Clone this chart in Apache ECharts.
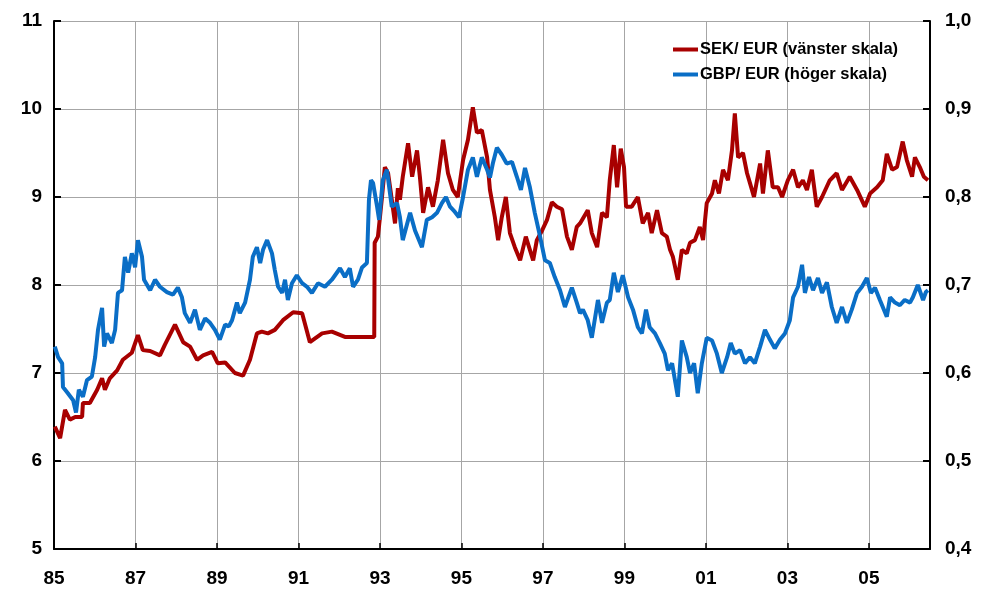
<!DOCTYPE html>
<html>
<head>
<meta charset="utf-8">
<script src="https://cdn.jsdelivr.net/npm/echarts@6/dist/echarts.min.js"></script>
<style>
html,body{margin:0;padding:0;background:#fff;}
#chart{width:987px;height:596px;}
</style>
</head>
<body>
<div id="chart"></div>
<script>
const seriesNames = ['SEK/ EUR (vänster skala)', 'GBP/ EUR (höger skala)'];

const sekYears = [1985.02,1985.15,1985.27,1985.39,1985.52,1985.69,1985.71,1985.88,1986.06,1986.18,1986.25,1986.37,1986.55,1986.69,1986.91,1987.06,1987.18,1987.36,1987.60,1987.72,1987.97,1988.17,1988.34,1988.51,1988.66,1988.88,1989.02,1989.20,1989.44,1989.64,1989.81,1989.98,1990.10,1990.25,1990.42,1990.62,1990.87,1991.09,1991.28,1991.58,1991.82,1992.14,1992.46,1992.86,1992.87,1992.95,1993.00,1993.05,1993.12,1993.20,1993.29,1993.37,1993.44,1993.49,1993.56,1993.69,1993.79,1993.91,1993.98,1994.06,1994.18,1994.30,1994.42,1994.55,1994.67,1994.79,1994.91,1995.04,1995.16,1995.28,1995.38,1995.50,1995.63,1995.70,1995.82,1995.90,1995.99,1996.09,1996.19,1996.31,1996.44,1996.58,1996.68,1996.76,1996.85,1996.98,1997.10,1997.22,1997.34,1997.47,1997.59,1997.71,1997.83,1997.91,1998.10,1998.20,1998.33,1998.45,1998.57,1998.64,1998.74,1998.82,1998.91,1998.99,1999.04,1999.18,1999.33,1999.45,1999.58,1999.67,1999.80,1999.92,2000.04,2000.12,2000.19,2000.31,2000.41,2000.53,2000.61,2000.73,2000.85,2000.93,2001.02,2001.15,2001.22,2001.32,2001.42,2001.54,2001.64,2001.71,2001.79,2001.91,2002.01,2002.08,2002.18,2002.33,2002.40,2002.52,2002.64,2002.77,2002.87,2003.01,2003.14,2003.26,2003.38,2003.48,2003.60,2003.72,2003.85,2004.04,2004.21,2004.34,2004.53,2004.71,2004.90,2005.03,2005.20,2005.34,2005.44,2005.57,2005.69,2005.83,2005.93,2006.06,2006.13,2006.25,2006.35,2006.45];
const sekValues = [6.39,6.26,6.58,6.47,6.50,6.50,6.66,6.66,6.81,6.94,6.81,6.94,7.03,7.15,7.23,7.43,7.26,7.25,7.20,7.32,7.55,7.35,7.30,7.15,7.20,7.24,7.11,7.12,7.00,6.97,7.15,7.45,7.47,7.45,7.49,7.60,7.69,7.68,7.35,7.45,7.47,7.41,7.41,7.41,8.48,8.55,8.77,9.00,9.34,9.27,8.97,8.70,9.10,8.97,9.23,9.61,9.23,9.53,9.23,8.82,9.11,8.89,9.19,9.65,9.27,9.08,9.00,9.42,9.65,10.02,9.73,9.76,9.45,9.08,8.77,8.51,8.77,9.00,8.59,8.43,8.28,8.55,8.40,8.28,8.51,8.62,8.74,8.94,8.89,8.86,8.55,8.40,8.66,8.70,8.85,8.59,8.43,8.82,8.77,9.19,9.59,9.11,9.55,9.34,8.89,8.89,9.00,8.70,8.82,8.59,8.85,8.59,8.55,8.40,8.32,8.06,8.40,8.36,8.48,8.51,8.66,8.51,8.93,9.04,9.19,9.04,9.31,9.19,9.53,9.95,9.45,9.50,9.27,9.16,9.00,9.38,9.04,9.53,9.11,9.11,9.00,9.19,9.31,9.11,9.19,9.08,9.31,8.89,9.00,9.19,9.27,9.08,9.23,9.08,8.89,9.04,9.11,9.19,9.49,9.31,9.34,9.63,9.42,9.23,9.45,9.34,9.23,9.19];

const gbpYears = [1985.02,1985.10,1985.20,1985.22,1985.34,1985.47,1985.54,1985.61,1985.71,1985.81,1985.93,1986.01,1986.08,1986.18,1986.23,1986.30,1986.42,1986.50,1986.57,1986.67,1986.74,1986.82,1986.91,1986.99,1987.06,1987.16,1987.21,1987.36,1987.48,1987.60,1987.77,1987.92,1988.04,1988.14,1988.21,1988.34,1988.46,1988.58,1988.71,1988.83,1988.95,1989.07,1989.20,1989.29,1989.37,1989.49,1989.56,1989.69,1989.81,1989.88,1989.98,1990.06,1990.13,1990.23,1990.35,1990.42,1990.50,1990.60,1990.67,1990.74,1990.84,1990.96,1991.09,1991.21,1991.33,1991.48,1991.65,1991.82,1992.02,1992.14,1992.26,1992.34,1992.46,1992.56,1992.68,1992.73,1992.78,1992.83,1992.93,1992.98,1993.07,1993.17,1993.29,1993.42,1993.49,1993.56,1993.74,1993.86,1994.03,1994.15,1994.28,1994.40,1994.52,1994.62,1994.72,1994.84,1994.94,1995.04,1995.16,1995.28,1995.38,1995.50,1995.63,1995.70,1995.77,1995.87,1995.99,1996.11,1996.24,1996.36,1996.46,1996.56,1996.68,1996.80,1996.93,1997.05,1997.17,1997.29,1997.42,1997.54,1997.71,1997.83,1997.91,1997.98,1998.10,1998.20,1998.35,1998.45,1998.57,1998.64,1998.74,1998.84,1998.96,1999.09,1999.21,1999.33,1999.43,1999.53,1999.62,1999.75,1999.87,1999.99,2000.07,2000.17,2000.31,2000.41,2000.53,2000.61,2000.71,2000.80,2000.90,2001.02,2001.15,2001.27,2001.39,2001.52,2001.61,2001.71,2001.84,2001.96,2002.08,2002.20,2002.33,2002.45,2002.57,2002.69,2002.82,2002.94,2003.06,2003.14,2003.26,2003.36,2003.43,2003.53,2003.63,2003.75,2003.85,2003.97,2004.09,2004.21,2004.34,2004.46,2004.58,2004.71,2004.83,2004.95,2005.05,2005.15,2005.27,2005.44,2005.52,2005.64,2005.76,2005.88,2006.01,2006.08,2006.20,2006.33,2006.40,2006.45];
const gbpValues = [0.630,0.618,0.611,0.584,0.577,0.569,0.555,0.581,0.573,0.592,0.596,0.618,0.649,0.674,0.630,0.645,0.634,0.649,0.691,0.694,0.732,0.714,0.736,0.720,0.751,0.732,0.706,0.694,0.706,0.698,0.692,0.689,0.697,0.686,0.668,0.657,0.672,0.649,0.662,0.657,0.649,0.638,0.655,0.653,0.660,0.680,0.668,0.680,0.706,0.732,0.743,0.725,0.740,0.751,0.736,0.717,0.698,0.691,0.706,0.683,0.702,0.711,0.702,0.698,0.691,0.702,0.698,0.706,0.719,0.709,0.719,0.698,0.706,0.720,0.725,0.797,0.819,0.816,0.789,0.774,0.819,0.831,0.789,0.793,0.777,0.751,0.782,0.762,0.743,0.774,0.777,0.782,0.793,0.800,0.789,0.783,0.777,0.800,0.831,0.845,0.823,0.845,0.831,0.822,0.838,0.856,0.848,0.838,0.840,0.823,0.808,0.833,0.811,0.782,0.755,0.728,0.725,0.709,0.694,0.675,0.697,0.680,0.668,0.672,0.660,0.640,0.683,0.657,0.680,0.683,0.714,0.692,0.711,0.686,0.672,0.652,0.645,0.672,0.652,0.645,0.634,0.622,0.603,0.611,0.573,0.637,0.618,0.600,0.611,0.577,0.611,0.640,0.637,0.622,0.600,0.618,0.634,0.622,0.626,0.611,0.618,0.611,0.630,0.649,0.638,0.628,0.638,0.645,0.660,0.686,0.698,0.723,0.691,0.709,0.694,0.708,0.691,0.703,0.675,0.657,0.675,0.657,0.672,0.691,0.698,0.708,0.691,0.697,0.683,0.664,0.686,0.680,0.677,0.683,0.680,0.686,0.700,0.683,0.692,0.694];

const startYear = 1985;
const endYear = 2006.5;

const chart = echarts.init(document.getElementById('chart'), null, {renderer: 'canvas'});
const labelFont = {fontFamily: 'Liberation Sans, Arial, sans-serif', fontWeight: 'bold', fontSize: 19, color: '#000'};
const gridLine = {show: true, lineStyle: {color: '#a6a6a6', width: 1}};
const axisLine = {show: true, onZero: false, lineStyle: {color: '#000', width: 2}};

chart.setOption({
  animation: false,
  backgroundColor: '#fff',
  grid: {left: 54, right: 57, top: 21, bottom: 47, containLabel: false},
  legend: {
    orient: 'vertical', left: 668, top: 36, itemGap: 8,
    itemWidth: 25, itemHeight: 4, icon: 'rect',
    textStyle: {fontFamily: 'Liberation Sans, Arial, sans-serif', fontWeight: 'bold', fontSize: 16.5, color: '#000', padding: [0,0,0,-3]},
    data: seriesNames
  },
  xAxis: {
    type: 'value', min: 0, max: endYear - startYear, interval: 2,
    axisLine: axisLine,
    axisTick: {show: true, inside: true, length: 6, lineStyle: {color: '#000', width: 1.5}},
    splitLine: gridLine,
    axisLabel: Object.assign({margin: 20, showMaxLabel: false,
      formatter: v => String((85 + v) % 100).padStart(2, '0')}, labelFont)
  },
  yAxis: [
    {
      type: 'value', min: 5, max: 11, interval: 1, position: 'left',
      axisLine: axisLine,
      axisTick: {show: true, inside: true, length: 7, lineStyle: {color: '#000', width: 2}},
      splitLine: gridLine,
      axisLabel: Object.assign({margin: 12}, labelFont)
    },
    {
      type: 'value', min: 0.4, max: 1.0, interval: 0.1, position: 'right',
      axisLine: axisLine,
      axisTick: {show: true, inside: true, length: 7, lineStyle: {color: '#000', width: 2}},
      splitLine: {show: false},
      axisLabel: Object.assign({margin: 15, formatter: v => v.toFixed(1).replace('.', ',')}, labelFont)
    }
  ],
  series: [
    {
      name: seriesNames[0], type: 'line', yAxisIndex: 0, showSymbol: false, symbol: 'none',
      lineStyle: {color: '#A80000', width: 4}, itemStyle: {color: '#A80000'},
      data: sekYears.map((y, i) => [y - startYear, sekValues[i]])
    },
    {
      name: seriesNames[1], type: 'line', yAxisIndex: 1, showSymbol: false, symbol: 'none',
      lineStyle: {color: '#0A6EC6', width: 4}, itemStyle: {color: '#0A6EC6'},
      data: gbpYears.map((y, i) => [y - startYear, gbpValues[i]])
    }
  ]
});
</script>
</body>
</html>
